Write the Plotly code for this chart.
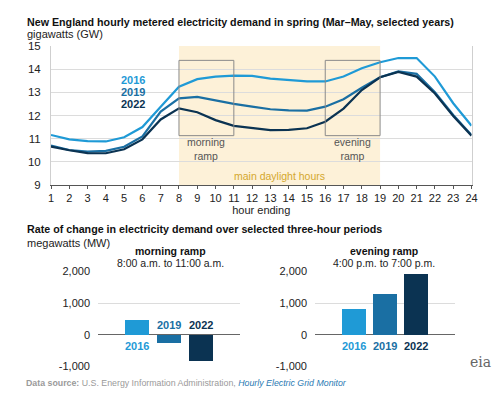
import plotly.graph_objects as go

hours = list(range(1, 25))
demand_2016 = [11.16, 10.97, 10.89, 10.88, 11.06, 11.5, 12.38, 13.24, 13.57, 13.68, 13.72, 13.71,
               13.59, 13.53, 13.47, 13.47, 13.68, 14.04, 14.3, 14.48, 14.48, 13.68, 12.53, 11.56]
demand_2019 = [10.7, 10.51, 10.44, 10.47, 10.65, 11.1, 12.17, 12.74, 12.8, 12.64, 12.5, 12.38,
               12.27, 12.22, 12.21, 12.38, 12.7, 13.2, 13.65, 13.9, 13.8, 13.0, 12.02, 11.16]
demand_2022 = [10.66, 10.5, 10.38, 10.37, 10.54, 10.97, 11.83, 12.31, 12.14, 11.8, 11.55, 11.45,
               11.37, 11.38, 11.45, 11.73, 12.3, 13.1, 13.65, 13.88, 13.68, 12.95, 11.98, 11.13]
years = ["2016", "2019", "2022"]
morning_ramp = [480, -265, -820]
evening_ramp = [820, 1300, 1925]
y_ticks_top = [9, 10, 11, 12, 13, 14, 15]
y_ticks_bottom = [-1000, 0, 1000, 2000]
y_ticktext_bottom = ["-1,000", "0", "1,000", "2,000"]

colors = ["#1f9ad6", "#1a6fa3", "#0b3352"]
FONT = "Liberation Sans, Arial, sans-serif"
W, H = 500, 394

def px(x):
    return x / W

def py(y):
    return 1 - y / H

fig = go.Figure()
for yr, vals, c in zip(years, [demand_2016, demand_2019, demand_2022], colors):
    fig.add_trace(go.Scatter(x=hours, y=vals, mode="lines", line=dict(color=c, width=2.2),
                             name=yr, xaxis="x", yaxis="y", showlegend=False, hoverinfo="skip"))

bar_x = [0, 1, 2]
fig.add_trace(go.Bar(x=bar_x, y=morning_ramp, marker=dict(color=colors, line=dict(width=0)),
                     width=0.76, xaxis="x2", yaxis="y2", showlegend=False, hoverinfo="skip"))
fig.add_trace(go.Bar(x=bar_x, y=evening_ramp, marker=dict(color=colors, line=dict(width=0)),
                     width=0.76, xaxis="x3", yaxis="y3", showlegend=False, hoverinfo="skip"))

shapes = [
    dict(type="rect", xref="x", yref="y", x0=8, x1=19, y0=9, y1=15, fillcolor="#fdf1d8",
         line=dict(width=0), layer="below"),
    dict(type="rect", xref="x", yref="y", x0=8, x1=11, y0=11.13, y1=14.38,
         line=dict(color="#8a8a8a", width=1), layer="above"),
    dict(type="rect", xref="x", yref="y", x0=16, x1=19, y0=11.13, y1=14.38,
         line=dict(color="#8a8a8a", width=1), layer="above"),
]

ann = []
def txt(x, y, t, size=11, color="#222", xref="paper", yref="paper", xanchor="left",
        yanchor="middle", bold=False, align="left", **kw):
    if bold:
        t = "<b>" + t + "</b>"
    ann.append(dict(x=x, y=y, xref=xref, yref=yref, text=t, showarrow=False, xanchor=xanchor,
                    yanchor=yanchor, align=align,
                    font=dict(family=FONT, size=size, color=color), **kw))

txt(px(25), py(22), "New England hourly metered electricity demand in spring (Mar–May, selected years)",
    size=10.7, bold=True, color="#111")
txt(px(25), py(34), "gigawatts (GW)", size=11, color="#222")
txt(6.25, 13.53, "2016", xref="x", yref="y", xanchor="right", bold=True, color=colors[0], size=11)
txt(6.25, 13.0, "2019", xref="x", yref="y", xanchor="right", bold=True, color=colors[1], size=11)
txt(6.25, 12.48, "2022", xref="x", yref="y", xanchor="right", bold=True, color=colors[2], size=11)
txt(9.5, 10.56, "morning<br>ramp", xref="x", yref="y", xanchor="center", align="center",
    size=10.5, color="#555")
txt(17.5, 10.56, "evening<br>ramp", xref="x", yref="y", xanchor="center", align="center",
    size=10.5, color="#555")
txt(13.5, 9.4, "main daylight hours", xref="x", yref="y", xanchor="center", size=10.5,
    color="#d4a72c")

txt(px(25), py(229), "Rate of change in electricity demand over selected three-hour periods",
    size=10.7, bold=True, color="#111")
txt(px(25), py(243), "megawatts (MW)", size=11, color="#222")
txt(px(170), py(251), "morning ramp", xanchor="center", bold=True, size=10.5, color="#111")
txt(px(170), py(262.5), "8:00 a.m. to 11:00 a.m.", xanchor="center", size=10.5, color="#222")
txt(px(384), py(251), "evening ramp", xanchor="center", bold=True, size=10.5, color="#111")
txt(px(384), py(262.5), "4:00 p.m. to 7:00 p.m.", xanchor="center", size=10.5, color="#222")

for i, (yr, v) in enumerate(zip(years, morning_ramp)):
    above = v < 0
    txt(i, 0, yr, xref="x2", yref="y2", xanchor="center",
        yanchor="bottom" if above else "top", yshift=2 if above else -3,
        bold=True, size=11, color=colors[i])
for i, yr in enumerate(years):
    txt(i, 0, yr, xref="x3", yref="y3", xanchor="center", yanchor="top", yshift=-3,
        bold=True, size=11, color=colors[i])

txt(px(24), py(383),
    "<b>Data source:</b> U.S. Energy Information Administration, "
    "<i><span style='color:#2a7ab3'>Hourly Electric Grid Monitor</span></i>",
    size=8.8, color="#9a9a9a")
txt(px(480), py(362), "eia", xanchor="center", size=14, color="#666")
ann[-1]["font"]["family"] = "DejaVu Serif, Liberation Serif, serif"

fig.update_layout(
    width=W, height=H, margin=dict(l=0, r=0, t=0, b=0, autoexpand=False),
    paper_bgcolor="white", plot_bgcolor="white",
    font=dict(family=FONT, size=11, color="#222"),
    shapes=shapes, annotations=ann, bargap=0,
    xaxis=dict(domain=[px(51), px(471.5)], range=[1, 24], tickvals=hours,
               ticktext=[str(h) for h in hours], showgrid=False, zeroline=False,
               showline=True, linecolor="#555", linewidth=1, ticks="outside", ticklen=3,
               tickcolor="#555", tickfont=dict(size=11, color="#222"),
               title=dict(text="hour ending", font=dict(size=11, color="#222"), standoff=2),
               anchor="y", automargin=False),
    yaxis=dict(domain=[py(185), py(46)], range=[9, 15], tickvals=y_ticks_top,
               showgrid=True, gridcolor="#dcdcdc", gridwidth=1, zeroline=False,
               showline=True, linecolor="#cfcfcf", mirror=True, ticks="",
               ticklabelstandoff=7, tickfont=dict(size=11.5, color="#222"), anchor="x",
               automargin=False),
    xaxis2=dict(domain=[px(98), px(240)], range=[-1.25, 3.25], showticklabels=False,
                showgrid=False, zeroline=False, showline=False, anchor="y2", automargin=False),
    yaxis2=dict(domain=[py(367), py(271)], range=[-1015, 2015], tickvals=y_ticks_bottom,
                ticktext=y_ticktext_bottom, showgrid=True, gridcolor="#dcdcdc",
                zeroline=True, zerolinecolor="#666", zerolinewidth=1.2, ticks="",
                ticklabelstandoff=7, tickfont=dict(size=11, color="#222"), anchor="x2",
                automargin=False),
    xaxis3=dict(domain=[px(315), px(455)], range=[-1.25, 3.25], showticklabels=False,
                showgrid=False, zeroline=False, showline=False, anchor="y3", automargin=False),
    yaxis3=dict(domain=[py(367), py(271)], range=[-1015, 2015], tickvals=y_ticks_bottom,
                ticktext=y_ticktext_bottom, showgrid=True, gridcolor="#dcdcdc",
                zeroline=True, zerolinecolor="#666", zerolinewidth=1.2, ticks="",
                ticklabelstandoff=7, tickfont=dict(size=11, color="#222"), anchor="x3",
                automargin=False),
)

fig.write_html("out.html", config={"displayModeBar": False},
               post_script="document.body.style.margin='0px';document.body.style.overflow='hidden';")
